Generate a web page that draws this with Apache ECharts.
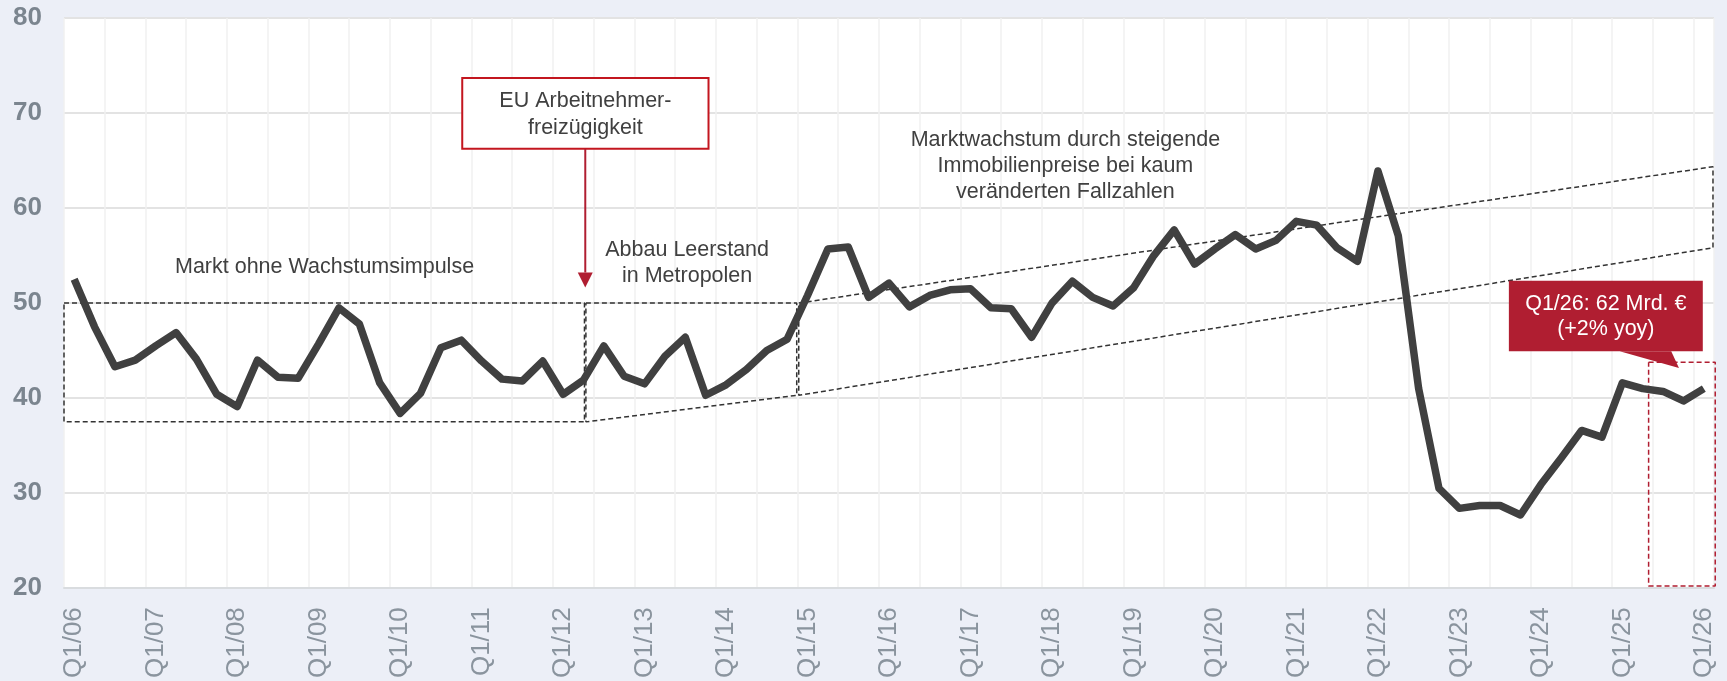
<!DOCTYPE html>
<html>
<head>
<meta charset="utf-8">
<script src="https://cdn.jsdelivr.net/npm/echarts@6/dist/echarts.min.js"></script>
<style>
  html, body { margin: 0; padding: 0; background: #ECEFF7; }
  #chart { width: 1727px; height: 681px; }
</style>
</head>
<body>
<div id="chart"></div>
<script>
// Quarter labels Q1/06 … Q1/26
const categories = [];
for (let y = 6; y <= 26; y++) {
  for (let q = 1; q <= 4; q++) {
    if (y === 26 && q > 1) break;
    categories.push('Q' + q + '/' + String(y).padStart(2, '0'));
  }
}

// Transaction volume, quarterly
const volume = [
  52.5, 47.5, 43.3, 44.0, 45.5, 46.9, 44.1, 40.4, 39.1, 44.0,
  42.2, 42.1, 45.7, 49.5, 47.8, 41.6, 38.4, 40.5, 45.3, 46.1,
  43.9, 42.0, 41.8, 43.9, 40.4, 41.9, 45.5, 42.3, 41.5, 44.4,
  46.4, 40.3, 41.4, 43.0, 45.0, 46.2, 50.8, 55.7, 55.9, 50.6,
  52.1, 49.6, 50.8, 51.4, 51.5, 49.5, 49.4, 46.4, 50.0, 52.3,
  50.6, 49.7, 51.6, 55.0, 57.7, 54.1, 55.7, 57.2, 55.7, 56.6,
  58.6, 58.2, 55.8, 54.4, 63.9, 57.1, 41.0, 30.5, 28.4, 28.7,
  28.7, 27.7, 30.9, 33.7, 36.6, 35.9, 41.6, 41.0, 40.7, 39.7,
  41.0
];

// Y axis range
const yMin = 20, yMax = 80, yStep = 10;

// Phase outlines on a continuous quarter scale (quarter i spans [i, i+1])
const phase1Outline = [[0, 50], [25.55, 50], [25.55, 37.5], [0, 37.5], [0, 50]];
const phase2Outline = [[25.62, 50], [35.97, 50], [35.97, 40.3], [25.62, 37.5], [25.62, 50]];
const phase3Outline = [[36.07, 50], [80.95, 64.35], [80.95, 55.82], [36.07, 40.3], [36.07, 50]];
const latestFrame = [[77.79, 43.78], [81.06, 43.78], [81.06, 20.24], [77.79, 20.24], [77.79, 43.78]];

// Phase captions
const captions = [
  { text: 'Markt ohne Wachstumsimpulse', at: [12.79, 53.78] },
  { text: 'Abbau Leerstand\nin Metropolen', at: [30.59, 54.25] },
  { text: 'Marktwachstum durch steigende\nImmobilienpreise bei kaum\nveränderten Fallzahlen', at: [49.16, 64.4] }
];

// Event box with arrow
const eventBox = { text: 'EU Arbeitnehmer-\nfreizügigkeit', from: [19.55, 73.68], to: [31.64, 66.23] };
const eventArrow = { x: 25.59, top: 66.23, headBase: 53.22, tip: 51.65 };

// Latest-quarter callout
const callout = {
  text: 'Q1/26: 62 Mrd. €\n(+2% yoy)',
  from: [70.93, 52.34], to: [80.45, 44.93],
  tail: [[76.37, 44.93], [79.28, 43.18], [78.9, 44.93]]
};

const FONT = '"Liberation Sans", Arial, sans-serif';
const RED = '#B01E31';
const INK = '#404040';
const NOTE_FONT = '21.5px ' + FONT;

function outlineSeries(points, color) {
  return {
    type: 'line', xAxisIndex: 1, yAxisIndex: 0, data: points,
    symbol: 'none', silent: true, clip: false, z: 3,
    lineStyle: { color: color, width: 1.5, type: [5, 3] }
  };
}

function renderAnnotations(params, api) {
  const children = [];
  const rectOf = (a, b) => {
    const p1 = api.coord(a), p2 = api.coord(b);
    return { x: Math.min(p1[0], p2[0]), y: Math.min(p1[1], p2[1]),
             width: Math.abs(p2[0] - p1[0]), height: Math.abs(p2[1] - p1[1]) };
  };

  captions.forEach(c => {
    const p = api.coord(c.at);
    children.push({
      type: 'text', x: p[0], y: p[1],
      style: { text: c.text, fill: INK, font: NOTE_FONT, align: 'center',
               verticalAlign: 'middle', lineHeight: 26 }
    });
  });

  // event box
  const eb = rectOf(eventBox.from, eventBox.to);
  children.push({
    type: 'rect', shape: eb,
    style: { fill: '#fff', stroke: '#C3161F', lineWidth: 2 }
  });
  children.push({
    type: 'text', x: eb.x + eb.width / 2, y: eb.y + eb.height / 2 + 1,
    style: { text: eventBox.text, fill: INK, font: NOTE_FONT, align: 'center',
             verticalAlign: 'middle', lineHeight: 26.5 }
  });
  const aTop = api.coord([eventArrow.x, eventArrow.top]);
  const aBase = api.coord([eventArrow.x, eventArrow.headBase]);
  const aTip = api.coord([eventArrow.x, eventArrow.tip]);
  children.push({
    type: 'line', shape: { x1: aTop[0], y1: aTop[1], x2: aBase[0], y2: aBase[1] },
    style: { stroke: RED, lineWidth: 2 }
  });
  children.push({
    type: 'polygon',
    shape: { points: [[aBase[0] - 7.5, aBase[1]], [aBase[0] + 7.5, aBase[1]], aTip] },
    style: { fill: RED }
  });

  // callout
  const cb = rectOf(callout.from, callout.to);
  children.push({ type: 'rect', shape: cb, style: { fill: RED } });
  children.push({
    type: 'polygon', shape: { points: callout.tail.map(p => api.coord(p)) },
    style: { fill: RED }
  });
  children.push({
    type: 'text', x: cb.x + cb.width / 2, y: cb.y + cb.height / 2 + 1,
    style: { text: callout.text, fill: '#fff', font: NOTE_FONT, align: 'center',
             verticalAlign: 'middle', lineHeight: 25 }
  });

  return { type: 'group', children: children };
}

const chart = echarts.init(document.getElementById('chart'), null, { renderer: 'canvas' });
chart.setOption({
  backgroundColor: '#ECEFF7',
  animation: false,
  textStyle: { fontFamily: FONT },
  grid: { left: 64, right: 13, top: 18, bottom: 91, show: true,
          backgroundColor: '#ffffff', borderWidth: 0, containLabel: false },
  xAxis: [
    {
      type: 'category', data: categories, boundaryGap: true,
      axisLine: { lineStyle: { color: '#D9DCDF', width: 2 } },
      axisTick: { interval: 3, length: 8, lineStyle: { color: '#D3D6D9', width: 2 } },
      axisLabel: { interval: 3, rotate: 90, margin: 19, fontSize: 26, color: '#8A949E',
                   fontFamily: FONT },
      splitLine: { show: true, interval: 1, lineStyle: { color: '#F0F0F0', width: 1.5 } }
    },
    { type: 'value', min: 0, max: categories.length, show: false }
  ],
  yAxis: {
    type: 'value', min: yMin, max: yMax, interval: yStep,
    axisLine: { show: false }, axisTick: { show: false },
    axisLabel: { fontSize: 26, fontWeight: 'bold', color: '#7B858F', margin: 22,
                 fontFamily: FONT },
    splitLine: { lineStyle: { color: '#E3E3E3', width: 2 } }
  },
  series: [
    outlineSeries(phase1Outline, '#333333'),
    outlineSeries(phase2Outline, '#333333'),
    outlineSeries(phase3Outline, '#333333'),
    outlineSeries(latestFrame, RED),
    {
      name: 'Volumen', type: 'line', data: volume, xAxisIndex: 0, yAxisIndex: 0,
      symbol: 'none', z: 5,
      lineStyle: { color: INK, width: 7.5, join: 'round' }
    },
    {
      type: 'custom', xAxisIndex: 1, yAxisIndex: 0, data: [[0, 0]],
      renderItem: renderAnnotations, silent: true, z: 6
    }
  ]
});
</script>
</body>
</html>
